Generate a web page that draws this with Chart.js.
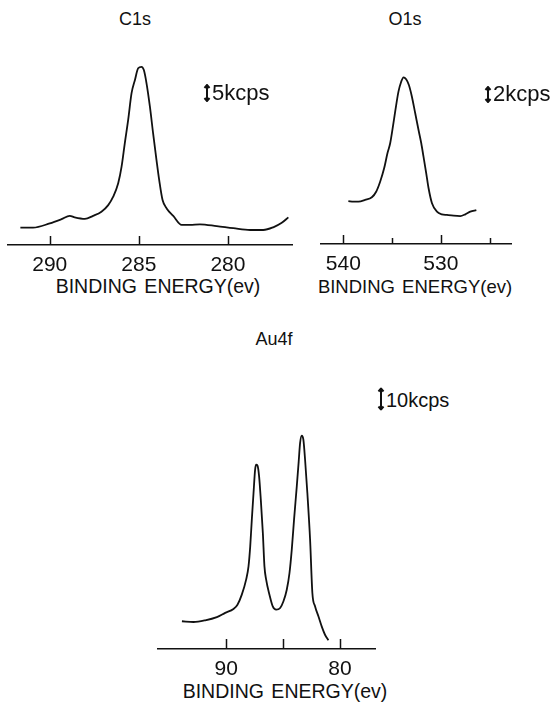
<!DOCTYPE html>
<html><head><meta charset="utf-8">
<script src="https://cdn.jsdelivr.net/npm/chart.js@4.4.1/dist/chart.umd.min.js"></script>
<style>
html,body{margin:0;padding:0;background:#fff;}
body{width:551px;height:703px;position:relative;overflow:hidden;font-family:'Liberation Sans',Arial,sans-serif;color:#111;}
canvas{position:absolute;}
.t{position:absolute;white-space:pre;transform:translate(-50%,-50%);line-height:1;}
.ax{word-spacing:2px;}
.sb{position:absolute;white-space:pre;line-height:1;display:flex;align-items:center;transform:translateY(-50%);}
.sb svg{margin-right:1px;}
</style></head><body>
<canvas id="c1s" width="286" height="235" style="left:7px;top:40px"></canvas>
<canvas id="o1s" width="192" height="234" style="left:320px;top:40px"></canvas>
<canvas id="au4f" width="219" height="269" style="left:157px;top:410px"></canvas>

<div class="t" style="left:135px;top:19px;font-size:18px">C1s</div>
<div class="t" style="left:405px;top:19px;font-size:18px">O1s</div>
<div class="t" style="left:274px;top:339px;font-size:18px">Au4f</div>

<div class="t ax" style="left:158px;top:287px;font-size:19.5px">BINDING ENERGY(ev)</div>
<div class="t ax" style="left:415px;top:287px;font-size:18.5px">BINDING ENERGY(ev)</div>
<div class="t ax" style="left:285px;top:692px;font-size:19.5px">BINDING ENERGY(ev)</div>

<div class="sb" style="left:203px;top:93px;font-size:22px"><svg width="8" height="18" viewBox="0 0 8 18"><path d="M4 1 L4 17 M1.5 4 L4 1 L6.5 4 M1.5 14 L4 17 L6.5 14" stroke="#111" stroke-width="2" fill="none"/></svg>5kcps</div>
<div class="sb" style="left:484px;top:94px;font-size:22px"><svg width="8" height="17" viewBox="0 0 8 17"><path d="M4 1 L4 16 M1.5 4 L4 1 L6.5 4 M1.5 13 L4 16 L6.5 13" stroke="#111" stroke-width="2" fill="none"/></svg>2kcps</div>
<div class="sb" style="left:377px;top:399px;font-size:20px"><svg width="8" height="23" viewBox="0 0 8 23"><path d="M4 1 L4 22 M1.5 4 L4 1 L6.5 4 M1.5 19 L4 22 L6.5 19" stroke="#111" stroke-width="2" fill="none"/></svg>10kcps</div>

<script>
// ---- data (binding energy in eV, intensity in kcps above the base line) ----
const c1sEnergy = [291.65, 290.94, 290.0, 289.34, 288.88, 288.60, 288.03, 287.57, 287.10, 286.72, 286.44, 286.16, 285.97, 285.79, 285.60, 285.41, 285.22, 285.04, 284.85, 284.72, 284.57, 284.38, 284.20, 284.01, 283.86, 283.67, 283.44, 283.07, 282.60, 282.13, 281.57, 280.63, 279.70, 278.76, 278.02, 277.46, 276.98, 276.61];
const c1sCounts = [5.8, 5.8, 7.2, 8.6, 9.7, 9.2, 8.7, 9.7, 11.1, 13.3, 16.1, 20.6, 26.1, 33.9, 41.7, 50.6, 55.0, 58.9, 59.4, 58.3, 53.9, 46.1, 37.2, 28.3, 21.7, 15.0, 12.2, 9.7, 6.7, 6.7, 6.9, 6.3, 5.6, 5.0, 5.0, 5.9, 7.4, 9.2];

const o1sEnergy = [539.49, 538.97, 538.46, 537.77, 537.08, 536.64, 536.23, 535.82, 535.48, 535.20, 534.92, 534.66, 534.35, 534.07, 533.83, 533.56, 533.28, 532.97, 532.63, 532.29, 532.01, 531.78, 531.50, 531.26, 530.91, 530.40, 529.89, 529.37, 528.69, 528.01, 527.49, 526.98, 526.36];
const o1sCounts = [5.73, 5.64, 5.64, 5.87, 6.23, 6.97, 8.31, 10.09, 12.09, 13.43, 15.64, 17.87, 20.31, 21.64, 22.23, 21.96, 21.2, 19.64, 17.43, 15.2, 13.43, 11.64, 9.43, 7.43, 5.43, 4.31, 3.96, 3.87, 3.77, 3.73, 3.96, 4.31, 4.53];

const au4fEnergy = [93.89, 92.87, 91.84, 90.82, 90.09, 89.36, 89.01, 88.63, 88.25, 88.04, 87.89, 87.75, 87.60, 87.46, 87.37, 87.25, 87.11, 86.96, 86.78, 86.64, 86.49, 86.20, 85.91, 85.61, 85.26, 84.97, 84.68, 84.44, 84.24, 84.04, 83.80, 83.63, 83.51, 83.36, 83.22, 83.07, 82.87, 82.63, 82.43, 82.19, 81.90, 81.61, 81.32, 81.02];
const au4fCounts = [14.6, 14.2, 15.1, 16.8, 19.0, 21.1, 23.3, 28.6, 36.5, 43.5, 54.0, 68.1, 82.1, 94.4, 97.0, 96.5, 90.9, 78.6, 61.0, 43.5, 36.5, 28.6, 22.4, 20.7, 21.6, 25.1, 31.2, 40.0, 52.3, 68.1, 85.6, 98.8, 108.4, 112.3, 110.2, 99.6, 82.1, 57.5, 29.5, 22.4, 17.2, 11.9, 7.5, 4.6];

// tick positions and labelled ticks
const c1sTicks = [290, 285, 280];
const c1sTickLabels = [290, 285, 280];
const o1sTicks = [540, 535, 530, 525];
const o1sTickLabels = [540, 530];
const au4fTicks = [90, 85, 80];
const au4fTickLabels = [90, 80];

const FONT = "'Liberation Sans', Arial, sans-serif";
const INK = '#111';

const upTicks = {
  id: 'upTicks',
  afterDraw(chart, args, opts) {
    const s = chart.scales.x, ctx = chart.ctx;
    ctx.save();
    ctx.strokeStyle = INK;
    ctx.lineWidth = 1.5;
    s.ticks.forEach(t => {
      const px = Math.round(s.getPixelForValue(t.value)) + 0.5;
      const len = (opts.shortTicks || []).includes(t.value) ? opts.shortLen : opts.len;
      ctx.beginPath();
      ctx.moveTo(px, s.top);
      ctx.lineTo(px, s.top - len);
      ctx.stroke();
    });
    ctx.restore();
  }
};

function makeChart(id, energy, counts, xmin, xmax, ymax, ticks, labels, tickOpts) {
  return new Chart(document.getElementById(id), {
    type: 'line',
    data: { datasets: [{
      data: energy.map((e, i) => ({ x: e, y: counts[i] })),
      borderColor: INK, borderWidth: 1.8, pointRadius: 0,
      cubicInterpolationMode: 'monotone', fill: false
    }] },
    options: {
      responsive: false, animation: false, events: [],
      layout: { padding: 0 },
      plugins: { legend: { display: false }, tooltip: { enabled: false }, title: { display: false }, upTicks: tickOpts },
      scales: {
        x: {
          type: 'linear', reverse: true, min: xmin, max: xmax,
          afterBuildTicks: s => { s.ticks = ticks.map(v => ({ value: v })); },
          afterFit: s => { s.height = 30; },
          grid: { display: false },
          border: { display: true, color: INK, width: 1.5 },
          ticks: {
            color: INK, font: { family: FONT, size: 21 }, padding: 0,
            maxRotation: 0, autoSkip: false,
            callback: v => labels.includes(v) ? String(v) : ''
          }
        },
        y: { display: false, min: 0, max: ymax }
      }
    },
    plugins: [upTicks]
  });
}

makeChart('c1s', c1sEnergy, c1sCounts, 276.35, 292.4, 68.33, c1sTicks, c1sTickLabels, { len: 9, shortTicks: [], shortLen: 9 });
makeChart('o1s', o1sEnergy, o1sCounts, 522.7, 542.4, 27.2, o1sTicks, o1sTickLabels, { len: 9, shortTicks: [535, 525], shortLen: 6 });
makeChart('au4f', au4fEnergy, au4fCounts, 76.84, 96.08, 125.8, au4fTicks, au4fTickLabels, { len: 10, shortTicks: [], shortLen: 10 });
</script>
</body></html>
